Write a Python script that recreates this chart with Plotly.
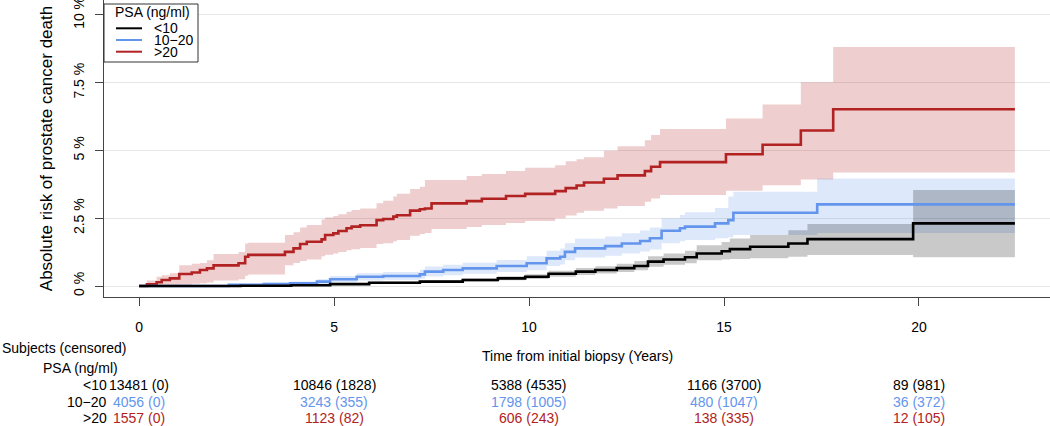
import plotly.graph_objects as go

# cumulative incidence (%) by PSA group, step start times in years
groups = ["<10", "10\u221220", ">20"]
colors = ["#000000", "#6495ED", "#B22222"]
bands = ["rgba(0,0,0,0.21)", "rgba(100,149,237,0.22)", "rgba(178,34,34,0.22)"]
t_end = 22.46

t_lt10 = [0, 2.6, 3.9, 4.9, 5.9, 7.2, 8.3, 9.2, 9.9, 10.5, 11.2, 11.7, 12.25, 12.7,
          13.05, 13.45, 14.0, 14.3, 14.94, 15.15, 15.67, 16.65, 17.14, 19.85]
est_lt10 = [0, 0.01, 0.03, 0.07, 0.12, 0.16, 0.22, 0.28, 0.34, 0.45, 0.53, 0.59, 0.66, 0.74,
            0.90, 0.98, 1.06, 1.20, 1.28, 1.36, 1.45, 1.57, 1.73, 2.31]
lo_lt10 = [0, 0.0, 0.01, 0.04, 0.08, 0.11, 0.16, 0.21, 0.26, 0.34, 0.41, 0.46, 0.52, 0.58,
           0.71, 0.78, 0.84, 0.95, 0.98, 1.00, 1.02, 1.08, 1.14, 1.06]
hi_lt10 = [0, 0.03, 0.06, 0.11, 0.17, 0.22, 0.29, 0.36, 0.43, 0.56, 0.66, 0.73, 0.82, 0.92,
           1.10, 1.20, 1.30, 1.50, 1.62, 1.75, 1.88, 2.06, 2.29, 3.54]

t_10_20 = [0, 2.3, 3.2, 3.87, 4.56, 4.9, 5.58, 6.26, 7.2, 7.33, 7.8, 8.3, 9.17, 9.94, 10.45,
           10.8, 10.92, 11.18, 11.95, 12.38, 12.85, 13.1, 13.4, 13.87, 14.0, 14.77, 15.11,
           15.24, 17.39]
est_10_20 = [0, 0.04, 0.07, 0.10, 0.16, 0.25, 0.34, 0.37, 0.43, 0.53, 0.59, 0.65, 0.74, 0.84,
             1.02, 1.08, 1.26, 1.39, 1.47, 1.57, 1.66, 1.76, 2.04, 2.13, 2.19, 2.31, 2.43,
             2.70, 3.01]
lo_10_20 = [0, 0.0, 0.02, 0.04, 0.07, 0.13, 0.20, 0.23, 0.27, 0.35, 0.40, 0.45, 0.52, 0.58,
            0.74, 0.79, 0.95, 1.05, 1.12, 1.20, 1.27, 1.35, 1.58, 1.65, 1.70, 1.76, 1.80,
            1.88, 1.96]
hi_10_20 = [0, 0.08, 0.12, 0.17, 0.25, 0.37, 0.47, 0.52, 0.60, 0.72, 0.78, 0.86, 0.96, 1.10,
            1.30, 1.38, 1.58, 1.74, 1.83, 1.95, 2.05, 2.16, 2.50, 2.62, 2.72, 2.88, 3.30,
            3.48, 3.97]

t_gt20 = [0, 0.2, 0.45, 0.58, 0.79, 1.03, 1.35, 1.56, 1.74, 1.91, 2.55, 2.72, 2.80, 3.74,
          3.96, 4.13, 4.30, 4.68, 4.77, 4.98, 5.11, 5.32, 5.45, 5.67, 6.09, 6.26, 6.52, 6.61,
          6.95, 7.20, 7.33, 7.50, 8.40, 8.79, 9.41, 9.90, 10.67, 10.94, 11.22, 11.41, 11.92,
          12.27, 12.97, 13.13, 13.36, 15.05, 15.99, 16.97, 17.80]
est_gt20 = [0, 0.06, 0.14, 0.22, 0.28, 0.44, 0.50, 0.59, 0.65, 0.76, 0.84, 1.08, 1.15, 1.26,
            1.39, 1.55, 1.63, 1.72, 1.88, 1.94, 2.03, 2.13, 2.19, 2.24, 2.43, 2.47, 2.56, 2.61,
            2.78, 2.83, 2.86, 3.05, 3.13, 3.22, 3.32, 3.40, 3.50, 3.61, 3.71, 3.82, 3.96,
            4.08, 4.24, 4.40, 4.57, 4.86, 5.21, 5.74, 6.52]
lo_gt20 = [0, 0, 0, 0.01, 0.02, 0.05, 0.08, 0.10, 0.13, 0.20, 0.25, 0.38, 0.42, 0.77,
           0.85, 0.92, 0.98, 1.10, 1.15, 1.20, 1.25, 1.32, 1.36, 1.40, 1.55, 1.58, 1.65, 1.70,
           1.85, 1.92, 1.96, 2.10, 2.18, 2.25, 2.32, 2.40, 2.50, 2.60, 2.70, 2.78, 2.86,
           2.95, 3.11, 3.23, 3.36, 3.51, 3.72, 3.93, 4.19]
hi_gt20 = [0, 0.20, 0.34, 0.40, 0.47, 0.77, 0.82, 0.85, 0.95, 1.18, 1.25, 1.57, 1.60, 1.88,
           1.98, 2.16, 2.25, 2.45, 2.53, 2.58, 2.65, 2.74, 2.80, 2.86, 3.05, 3.15, 3.30, 3.40,
           3.58, 3.66, 3.91, 3.91, 4.06, 4.13, 4.24, 4.36, 4.46, 4.60, 4.68, 4.75, 4.99,
           5.16, 5.38, 5.57, 5.79, 6.18, 6.70, 7.52, 8.82]

# number at risk (censored) table
table_times = [0, 5, 10, 15, 20]
risk_lt10 = ["13481 (0)", "10846 (1828)", "5388 (4535)", "1166 (3700)", "89 (981)"]
risk_10_20 = ["4056 (0)", "3243 (355)", "1798 (1005)", "480 (1047)", "36 (372)"]
risk_gt20 = ["1557 (0)", "1123 (82)", "606 (243)", "138 (335)", "12 (105)"]

y_ticks = [0, 2.5, 5, 7.5, 10]
y_ticktext = ["0 %", "2.5 %", "5 %", "7.5 %", "10 %"]

series = [
    (t_lt10, est_lt10, lo_lt10, hi_lt10),
    (t_10_20, est_10_20, lo_10_20, hi_10_20),
    (t_gt20, est_gt20, lo_gt20, hi_gt20),
]
risks = [risk_lt10, risk_10_20, risk_gt20]

FONT = "Liberation Sans, Arial, sans-serif"
FS = 14
W, H = 1050, 426
L, B = 104, 129
PW, PH = W - L, H - B


def px2x(px):
    return (px - L) / PW


def py2y(py):
    return (PH - py) / PH


fig = go.Figure()

# confidence bands (red first so it sits underneath)
for i in [2, 1, 0]:
    t, est, lo, hi = series[i]
    tt = t + [t_end]
    fig.add_trace(go.Scatter(x=tt, y=lo + [lo[-1]], mode="lines", line=dict(width=0, shape="hv"),
                             hoverinfo="skip", showlegend=False))
    fig.add_trace(go.Scatter(x=tt, y=hi + [hi[-1]], mode="lines", line=dict(width=0, shape="hv"),
                             fill="tonexty", fillcolor=bands[i], hoverinfo="skip", showlegend=False))

for i in [2, 1, 0]:
    t, est, lo, hi = series[i]
    fig.add_trace(go.Scatter(x=t + [t_end], y=est + [est[-1]], mode="lines", name=groups[i],
                             line=dict(color=colors[i], width=2.6, shape="hv"), showlegend=False))

ann = []
shapes = []

# hand-drawn legend, compact like the original
shapes.append(dict(type="rect", xref="paper", yref="paper", x0=px2x(104), x1=px2x(198),
                   y0=py2y(62), y1=py2y(4), line=dict(color="#333", width=1), fillcolor="white",
                   layer="above"))
ann.append(dict(text="PSA (ng/ml)", xref="paper", yref="paper", x=px2x(113), y=py2y(12),
                xanchor="left", yanchor="middle", showarrow=False, font=dict(size=FS)))
for i, g in enumerate(groups):
    yy = py2y(28.3 + 11.7 * i)
    shapes.append(dict(type="line", xref="paper", yref="paper", x0=px2x(116), x1=px2x(142),
                       y0=yy, y1=yy, line=dict(color=colors[i], width=2), layer="above"))
    ann.append(dict(text=g.replace("<", "&lt;"), xref="paper", yref="paper", x=px2x(152), y=yy,
                    xanchor="left", yanchor="middle", showarrow=False, font=dict(size=FS),
                    height=12))

# risk table below the plot
ann.append(dict(text="Subjects (censored)", xref="paper", yref="paper", x=px2x(0), y=py2y(348),
                xanchor="left", yanchor="middle", showarrow=False, font=dict(size=FS)))
ann.append(dict(text="Time from initial biopsy (Years)", xref="paper", yref="paper", x=0.5,
                y=py2y(356), xanchor="center", yanchor="middle", showarrow=False, font=dict(size=FS)))
ann.append(dict(text="PSA (ng/ml)", xref="paper", yref="paper", x=px2x(41), y=py2y(368),
                xanchor="left", yanchor="middle", showarrow=False, font=dict(size=FS)))
for i, g in enumerate(groups):
    yy = py2y(385 + 16.7 * i)
    ann.append(dict(text=g.replace("<", "&lt;"), xref="paper", yref="paper", x=px2x(108.5), y=yy,
                    xanchor="right", yanchor="middle", showarrow=False, font=dict(size=FS)))
    for tx, txt in zip(table_times, risks[i]):
        ann.append(dict(text=txt, xref="x", yref="paper", x=tx, y=yy, xanchor="center",
                        yanchor="middle", showarrow=False, font=dict(size=FS, color=colors[i])))

fig.update_layout(
    width=W, height=H,
    margin=dict(l=L, r=0, t=0, b=B, autoexpand=False),
    paper_bgcolor="white", plot_bgcolor="white",
    font=dict(family=FONT, size=FS, color="black"),
    showlegend=False,
    annotations=ann,
    shapes=shapes,
)
fig.update_xaxes(range=[-0.9, 23.36], tickvals=table_times, showgrid=False, zeroline=False,
                 showline=True, linecolor="#444", linewidth=1, ticks="outside", ticklen=8,
                 tickcolor="#444", ticklabelstandoff=9, automargin=False)
fig.update_yaxes(range=[-0.406, 10.553], tickvals=y_ticks, ticktext=y_ticktext, tickangle=-90,
                 showgrid=True, gridcolor="#E6E6E6", gridwidth=1, zeroline=False,
                 showline=True, linecolor="#444", linewidth=1, ticks="outside", ticklen=8,
                 tickcolor="#444", ticklabelstandoff=5, automargin=False,
                 ticklabeloverflow="allow",
                 title=dict(text="Absolute risk of prostate cancer death", standoff=14))

# page body has a default 8px margin; drop it so the chart fills the window
fig.write_html("out.html", config={"displayModeBar": False},
               post_script="document.body.style.margin='0';")
